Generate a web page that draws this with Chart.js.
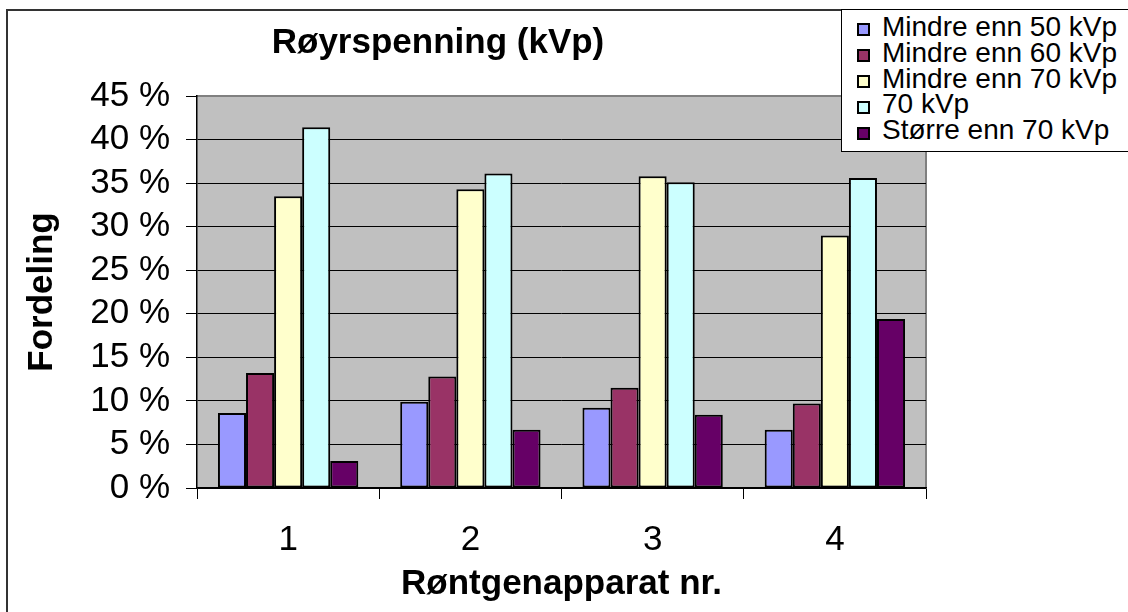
<!DOCTYPE html>
<html lang="no">
<head>
    <meta charset="UTF-8">
    <title>Røyrspenning (kVp)</title>
    <script src="https://cdn.jsdelivr.net/npm/chart.js"></script>
    <style>
        html, body {
            margin: 0;
            padding: 0;
            background: #fff;
            overflow: hidden;
        }
        #wrap {
            position: relative;
            width: 1128px;
            height: 612px;
        }
        #frame {
            position: absolute;
            left: 6px;
            top: 9px;
            width: 1200px;
            height: 700px;
            border: 2px solid #333;
        }
        canvas {
            position: absolute;
            left: 0;
            top: 0;
        }
        #legend {
            position: absolute;
            left: 841px;
            top: 9px;
            width: 300px;
            height: 143px;
            box-sizing: border-box;
            padding-top: 4px;
            background: #fff;
            border: 1.5px solid #000;
            font-family: 'Liberation Sans', Arial, sans-serif;
            font-size: 28px;
            line-height: 25.8px;
            color: #000;
        }
        .item {
            display: flex;
            align-items: center;
            height: 25.8px;
            white-space: nowrap;
        }
        .swatch {
            width: 9px;
            height: 9px;
            border: 2px solid #000;
            margin-left: 15px;
            margin-right: 12px;
            position: relative;
            top: 3px;
        }
    </style>
</head>
<body>
    <div id="wrap">
        <div id="frame"></div>
        <canvas id="chart" width="1128" height="612"></canvas>
        <div id="legend"></div>
    </div>

    <script>
        // data (percent)
        const categories = ['1', '2', '3', '4'];
        const seriesNames = ['Mindre enn 50 kVp', 'Mindre enn 60 kVp', 'Mindre enn 70 kVp', '70 kVp', 'Større enn 70 kVp'];
        const under50 = [8.6, 9.9, 9.2, 6.7];
        const under60 = [13.2, 12.8, 11.5, 9.7];
        const under70 = [33.5, 34.3, 35.8, 29.0];
        const at70 = [41.4, 36.1, 35.1, 35.6];
        const over70 = [3.1, 6.7, 8.4, 19.4];

        const seriesColors = ['#9999FF', '#993366', '#FFFFCC', '#CCFFFF', '#660066'];
        const titleText = 'Røyrspenning (kVp)';
        const xTitle = 'Røntgenapparat nr.';
        const yTitle = 'Fordeling';
        const fontFamily = "'Liberation Sans', Arial, sans-serif";

        const seriesValues = [under50, under60, under70, at70, over70];

        // grey plot area like Excel
        const plotBackground = {
            id: 'plotBackground',
            beforeDraw(chart) {
                const { ctx, chartArea: a } = chart;
                ctx.save();
                ctx.fillStyle = '#C0C0C0';
                ctx.fillRect(a.left, a.top, a.right - a.left, a.bottom - a.top);
                ctx.strokeStyle = '#808080';
                ctx.lineWidth = 2;
                ctx.beginPath();
                ctx.moveTo(a.left, a.top);
                ctx.lineTo(a.right, a.top);
                ctx.lineTo(a.right, a.bottom);
                ctx.stroke();
                ctx.restore();
            }
        };

        // title sits left of the plot centre, so draw it ourselves
        const chartTitle = {
            id: 'chartTitle',
            afterDraw(chart) {
                const ctx = chart.ctx;
                ctx.save();
                ctx.font = 'bold 35px ' + fontFamily;
                ctx.fillStyle = '#000';
                ctx.textAlign = 'center';
                ctx.textBaseline = 'alphabetic';
                ctx.fillText(titleText, 438, 53);
                ctx.restore();
            }
        };

        const datasets = seriesNames.map((name, i) => ({
            label: name,
            data: seriesValues[i],
            backgroundColor: seriesColors[i],
            borderColor: '#000',
            borderWidth: 2,
            borderSkipped: false,
            categoryPercentage: 0.77,
            barPercentage: 1
        }));

        new Chart(document.getElementById('chart'), {
            type: 'bar',
            data: { labels: categories, datasets: datasets },
            options: {
                responsive: false,
                animation: false,
                layout: { padding: { left: 8, right: 202, top: 96, bottom: 0 } },
                plugins: {
                    legend: { display: false },
                    title: { display: false },
                    tooltip: { enabled: false }
                },
                scales: {
                    x: {
                        offset: true,
                        grid: { offset: true, drawOnChartArea: false, drawTicks: true, tickLength: 11, color: '#000' },
                        border: { color: '#000', width: 1.5 },
                        ticks: { color: '#000', font: { size: 35, family: fontFamily }, padding: 20 },
                        title: {
                            display: true, text: xTitle, color: '#000',
                            font: { size: 35, weight: 'bold', family: fontFamily },
                            padding: { top: 0, bottom: 7 }
                        },
                        afterFit(scale) { scale.height = 124; }
                    },
                    y: {
                        min: 0,
                        max: 45,
                        ticks: {
                            stepSize: 5,
                            autoSkip: false,
                            callback: v => v + ' %',
                            color: '#000',
                            font: { size: 35, family: fontFamily, lineHeight: 1 },
                            padding: 16
                        },
                        grid: {
                            color: c => (c.tick && c.tick.value === 45) ? '#808080' : '#000',
                            tickColor: '#000',
                            tickLength: 11,
                            lineWidth: 1
                        },
                        border: { color: '#000', width: 1.5 },
                        title: {
                            display: true, text: yTitle, color: '#000',
                            font: { size: 35, weight: 'bold', family: fontFamily },
                            padding: { top: 13, bottom: 0 }
                        },
                        afterFit(scale) { scale.width = 189; }
                    }
                }
            },
            plugins: [plotBackground, chartTitle]
        });

        // legend box overlapping the top right corner, as in the original
        const legend = document.getElementById('legend');
        seriesNames.forEach((name, i) => {
            const row = document.createElement('div');
            row.className = 'item';
            const sw = document.createElement('span');
            sw.className = 'swatch';
            sw.style.background = seriesColors[i];
            const txt = document.createElement('span');
            txt.textContent = name;
            row.appendChild(sw);
            row.appendChild(txt);
            legend.appendChild(row);
        });
    </script>
</body>
</html>
